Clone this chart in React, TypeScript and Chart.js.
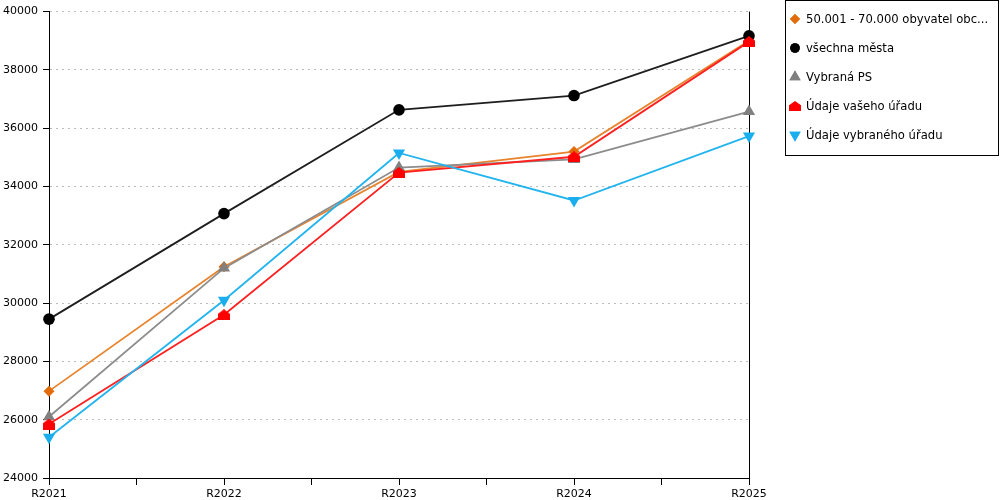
import { useEffect, useRef } from "react";
import { Chart, registerables } from "chart.js";
import { drawPoint } from "chart.js/helpers";

Chart.register(...registerables);

const categories = ["R2021", "R2022", "R2023", "R2024", "R2025"];
const yTicks = [24000, 26000, 28000, 30000, 32000, 34000, 36000, 38000, 40000];

const obceValues = [26980, 31250, 34500, 35200, 39000];
const mestaValues = [29450, 33070, 36630, 37120, 39170];
const psValues = [26100, 31200, 34650, 34930, 36570];
const vasUradValues = [25850, 29600, 34480, 35020, 38970];
const vybranyUradValues = [25400, 30100, 35150, 33520, 35730];

const FONT = "DejaVu Sans";

function makeHouse(color: string, w: number, h: number) {
  const c = document.createElement("canvas");
  c.width = w;
  c.height = h;
  const ctx = c.getContext("2d")!;
  ctx.fillStyle = color;
  ctx.beginPath();
  ctx.moveTo(w / 2, 0);
  ctx.lineTo(w, h * 0.42);
  ctx.lineTo(w, h);
  ctx.lineTo(0, h);
  ctx.lineTo(0, h * 0.42);
  ctx.closePath();
  ctx.fill();
  return c;
}

const toPoints = (vals: number[]) => vals.map((v, i) => ({ x: i, y: v }));

// box legend drawn on the canvas, like the original
const boxLegend = {
  id: "boxLegend",
  afterDraw(chart: any) {
    const ctx = chart.ctx as CanvasRenderingContext2D;
    ctx.save();
    ctx.strokeStyle = "#000";
    ctx.lineWidth = 1;
    ctx.strokeRect(785.5, 0.5, 213, 155);
    ctx.font = `11.6px "${FONT}"`;
    ctx.textBaseline = "middle";
    chart.data.datasets.forEach((ds: any, i: number) => {
      const y = 19 + i * 29;
      const style = ds.legendStyle;
      ctx.fillStyle = ds.pointBackgroundColor;
      ctx.strokeStyle = ds.pointBackgroundColor;
      if (style instanceof HTMLCanvasElement) {
        ctx.drawImage(style, 795 - style.width / 2, y - style.height / 2);
      } else {
        drawPoint(ctx, { pointStyle: style, radius: ds.legendRadius, rotation: ds.pointRotation || 0, borderWidth: 0 }, 795, y);
        ctx.fill();
      }
      ctx.fillStyle = "#000";
      ctx.fillText(ds.label, 806, y + 0.5);
    });
    ctx.restore();
  },
};

// right border of the plot
const frame = {
  id: "frame",
  beforeDatasetsDraw(chart: any) {
    const { ctx, chartArea } = chart;
    ctx.save();
    ctx.strokeStyle = "#000";
    ctx.lineWidth = 1;
    ctx.beginPath();
    ctx.moveTo(Math.round(chartArea.right) + 0.5, chartArea.top);
    ctx.lineTo(Math.round(chartArea.right) + 0.5, chartArea.bottom + 4);
    ctx.stroke();
    ctx.restore();
  },
};

export default function App() {
  const canvasRef = useRef<HTMLCanvasElement>(null);

  useEffect(() => {
    document.body.style.margin = "0";
    if (!canvasRef.current) return;
    const house = makeHouse("#ff0000", 12, 11);
    const houseLegend = makeHouse("#ff0000", 12, 10);

    const chart = new Chart(canvasRef.current, {
      type: "line",
      data: {
        datasets: [
          {
            label: "50.001 - 70.000 obyvatel obc...",
            data: toPoints(obceValues),
            borderColor: "#e8842e",
            pointBackgroundColor: "#e36c0a",
            pointBorderWidth: 0,
            pointStyle: "rectRot",
            pointRadius: 5.5,
            borderWidth: 1.8,
            clip: false,
            order: 4,
            legendStyle: "rectRot",
            legendRadius: 5,
          } as any,
          {
            label: "všechna města",
            data: toPoints(mestaValues),
            borderColor: "#1e1e1e",
            pointBackgroundColor: "#000000",
            pointBorderWidth: 0,
            pointStyle: "circle",
            pointRadius: 5.8,
            borderWidth: 1.8,
            clip: false,
            order: 3,
            legendStyle: "circle",
            legendRadius: 4.8,
          },
          {
            label: "Vybraná PS",
            data: toPoints(psValues),
            borderColor: "#8c8c8c",
            pointBackgroundColor: "#808080",
            pointBorderWidth: 0,
            pointStyle: "triangle",
            pointRadius: 7,
            borderWidth: 1.8,
            clip: false,
            order: 2,
            legendStyle: "triangle",
            legendRadius: 6.5,
          },
          {
            label: "Údaje vašeho úřadu",
            data: toPoints(vasUradValues),
            borderColor: "#ff2020",
            pointBackgroundColor: "#ff0000",
            pointBorderWidth: 0,
            pointStyle: house,
            borderWidth: 1.8,
            clip: false,
            order: 1,
            legendStyle: houseLegend,
          },
          {
            label: "Údaje vybraného úřadu",
            data: toPoints(vybranyUradValues),
            borderColor: "#22b4ee",
            pointBackgroundColor: "#1aaeef",
            pointBorderWidth: 0,
            pointStyle: "triangle",
            pointRotation: 180,
            pointRadius: 7,
            borderWidth: 1.8,
            clip: false,
            order: 0,
            legendStyle: "triangle",
            legendRadius: 6.5,
          },
        ] as any,
      },
      options: {
        responsive: false,
        animation: false,
        events: [],
        layout: { padding: { top: 10, right: 251, left: 0, bottom: 0 } },
        plugins: {
          legend: { display: false },
          tooltip: { enabled: false },
        },
        scales: {
          x: {
            type: "linear",
            min: 0,
            max: categories.length - 1,
            afterFit: (s: any) => {
              s.height = 22;
            },
            afterBuildTicks: (s: any) => {
              const t = [];
              for (let v = 0; v <= categories.length - 1; v += 0.5) t.push({ value: v });
              s.ticks = t;
            },
            grid: {
              drawOnChartArea: false,
              tickLength: 7,
              tickColor: "#000",
            },
            border: { color: "#000", width: 1 },
            ticks: {
              autoSkip: false,
              maxRotation: 0,
              padding: 3,
              color: "#000",
              font: { family: FONT, size: 11 },
              callback: (v: any) => (Number.isInteger(Number(v)) ? categories[Number(v)] : ""),
            },
          },
          y: {
            min: yTicks[0],
            max: yTicks[yTicks.length - 1],
            afterFit: (s: any) => {
              s.width = 49;
            },
            afterBuildTicks: (s: any) => {
              s.ticks = yTicks.map((v) => ({ value: v }));
            },
            grid: {
              color: "#bcbcbc",
              tickColor: "#000",
              tickLength: 6,
              lineWidth: 1,
            },
            border: { color: "#000", width: 1, dash: [2, 4] },
            ticks: {
              padding: 5,
              color: "#000",
              font: { family: FONT, size: 11 },
              callback: (v: any) => String(v),
            },
          },
        },
      },
      plugins: [boxLegend, frame],
    });

    return () => chart.destroy();
  }, []);

  return <canvas ref={canvasRef} width={1000} height={500} />;
}
